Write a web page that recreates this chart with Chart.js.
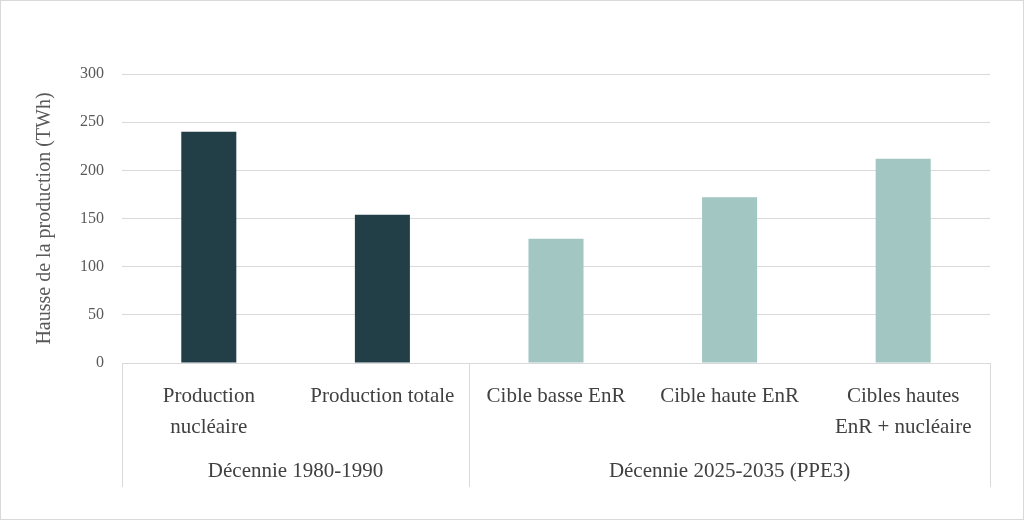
<!DOCTYPE html>
<html>
<head>
<meta charset="utf-8">
<script src="https://cdn.jsdelivr.net/npm/chart.js@4"></script>
<style>
  html, body { margin: 0; padding: 0; background: #fff; }
  #wrap { width: 1024px; height: 520px; position: relative; }
</style>
</head>
<body>
<div id="wrap"><canvas id="myChart" width="1024" height="520"></canvas></div>
<script>
// Données
const categories = [
  ['Production', 'nucléaire'],
  'Production totale',
  'Cible basse EnR',
  'Cible haute EnR',
  ['Cibles hautes', 'EnR + nucléaire']
];
const values = [240, 154, 129, 172, 212];
const groupNames = ['Décennie 1980-1990', 'Décennie 2025-2035 (PPE3)'];
const groupSizes = [2, 3];
const barColors = ['#223f48', '#223f48', '#a2c6c1', '#a2c6c1', '#a2c6c1'];

const serif = "'Liberation Serif', 'DejaVu Serif', serif";
const gridColor = '#d9d9d9';

// cadre + niveaux de groupes sous l'axe
const groupAxis = {
  id: 'groupAxis',
  beforeDraw(chart) {
    const c = chart.ctx;
    c.save();
    c.fillStyle = '#ffffff';
    c.fillRect(0, 0, chart.width, chart.height);
    c.strokeStyle = gridColor;
    c.lineWidth = 1;
    c.strokeRect(0.5, 0.5, chart.width - 1, chart.height - 1);
    c.restore();
  },
  afterDraw(chart) {
    const x = chart.scales.x;
    const area = chart.chartArea;
    const c = chart.ctx;
    const yBottom = x.bottom;
    c.save();
    c.strokeStyle = gridColor;
    c.lineWidth = 1;
    let idx = 0;
    let edges = [area.left];
    groupSizes.forEach((n) => {
      idx += n;
      if (idx < categories.length) {
        edges.push((x.getPixelForValue(idx - 1) + x.getPixelForValue(idx)) / 2);
      } else {
        edges.push(area.right);
      }
    });
    edges.forEach((ex) => {
      const px = Math.round(ex) + 0.5;
      c.beginPath();
      c.moveTo(px, area.bottom);
      c.lineTo(px, yBottom);
      c.stroke();
    });
    c.fillStyle = '#404040';
    c.font = '21px ' + serif;
    c.textAlign = 'center';
    c.textBaseline = 'middle';
    groupNames.forEach((name, i) => {
      c.fillText(name, (edges[i] + edges[i + 1]) / 2, 471);
    });
    c.restore();
  }
};

const ctx = document.getElementById('myChart');

new Chart(ctx, {
  type: 'bar',
  data: {
    labels: categories,
    datasets: [{
      data: values,
      backgroundColor: barColors,
      borderWidth: 0,
      categoryPercentage: 1,
      barPercentage: 0.317
    }]
  },
  options: {
    responsive: false,
    animation: false,
    layout: {
      padding: { left: 29, right: 34, top: 74, bottom: 33 }
    },
    plugins: {
      legend: { display: false },
      tooltip: { enabled: false }
    },
    scales: {
      x: {
        grid: { display: false },
        border: { display: false },
        ticks: {
          color: '#404040',
          padding: 10,
          maxRotation: 0,
          autoSkip: false,
          font: { family: serif, size: 21, lineHeight: 1.48 }
        },
        afterFit(scale) { scale.height = 124; }
      },
      y: {
        min: 0,
        max: 300,
        ticks: {
          stepSize: 50,
          color: '#595959',
          padding: 18,
          font: { family: serif, size: 16 }
        },
        grid: { color: gridColor, lineWidth: 1, drawTicks: false },
        border: { display: false },
        title: {
          display: true,
          text: 'Hausse de la production (TWh)',
          color: '#595959',
          font: { family: serif, size: 20 }
        },
        afterFit(scale) { scale.width = 93; }
      }
    }
  },
  plugins: [groupAxis]
});
</script>
</body>
</html>
